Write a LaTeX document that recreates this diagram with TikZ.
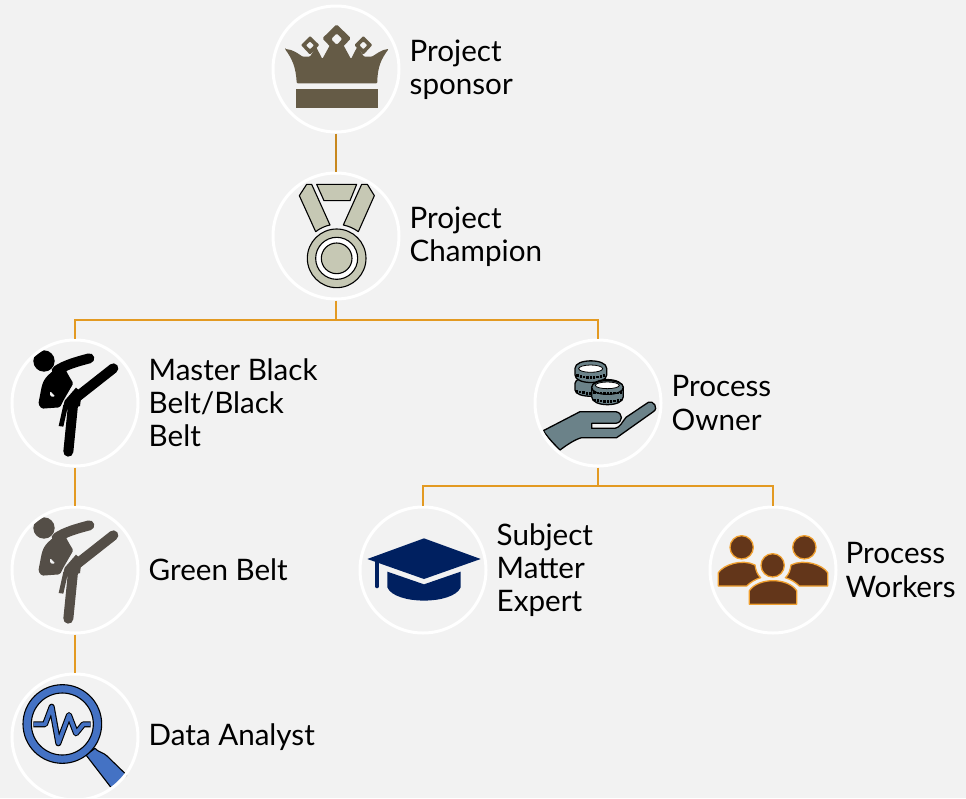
\documentclass[tikz,border=0pt]{standalone}
\usepackage{fontspec}
\setmainfont{Lato}
\definecolor{bgc}{HTML}{F2F2F2}
\definecolor{linec}{HTML}{E39A22}
\definecolor{crownc}{HTML}{655B46}
\definecolor{medalc}{HTML}{C6C8B4}
\definecolor{greenb}{HTML}{544E47}
\definecolor{coinc}{HTML}{6B8289}
\definecolor{capc}{HTML}{002060}
\definecolor{peoplec}{HTML}{63361A}
\definecolor{peoplel}{HTML}{F0A030}
\definecolor{magc}{HTML}{4472C4}
\tikzset{
  disc/.style={circle,draw=white,line width=3pt,minimum size=126pt,inner sep=0pt,outer sep=1.5pt},
  lab/.style={anchor=west,align=left,inner sep=0pt,font=\fontsize{29.6}{33.2}\selectfont},
  conn/.style={draw=linec,line width=2.9pt},
  medalpart/.style={fill=medalc,draw=black,line width=1.1pt,line join=round},
  coinpart/.style={fill=coinc,draw=black,line width=1.3pt},
  person/.style={fill=peoplec,draw=peoplel,line width=1.3pt,line join=round}
}
\newcommand{\kicker}[1]{%
  \fill[#1] (132,93) circle (32);
  \draw[#1,line width=10pt,line cap=round] (170,122) .. controls (195,105) and (230,95) .. (268,85);
  \fill[#1,even odd rule,rounded corners=1.5pt] (130,155) .. controls (145,130) and (165,118) .. (190,105) -- (205,135) -- (220,160) -- (190,212) -- (180,232) -- (125,236) -- (115,222) -- (125,170) -- cycle
     (150,182) -- (167,200) -- (150,200) -- cycle;
  \draw[#1,line width=10pt,line cap=round] (232,200) -- (340,115);
  \fill[#1] (228,173) -- (245,188) -- (240,228) -- (204,240) -- (190,228) -- (194,212) -- cycle;
  \draw[#1,line width=10pt,line cap=round] (220,215) -- (205,365);
  \fill[#1] (190,225) -- (203,232) -- (190,290) -- (176,288) -- cycle;
}
\newcommand{\coinband}[3]{%
  \foreach \k in {-4,...,4}{\fill[black] ({#1+\k*10-3},{#2+#3*(1-0.05*\k*\k)}) rectangle ++(7,8);}
}
\begin{document}
\begin{tikzpicture}[x=1pt,y=-1pt]
\useasboundingbox (0,0) rectangle (966,798);
\fill[bgc] (0,0) rectangle (966,798);

% crown
\begin{scope}[shift={(260,0)},scale=1/3]
  \fill[crownc,rounded corners=1pt] (75,147) .. controls (100,148) and (120,165) .. (128,170) -- (150,170) -- (168,140) -- (187,177) -- (210,135) -- (250,135) -- (273,177) -- (292,140) -- (312,170) -- (335,170) .. controls (345,165) and (365,148) .. (386,147) .. controls (365,175) and (352,200) .. (352,250) -- (110,250) .. controls (108,200) and (95,175) .. (75,147) -- cycle;
  \fill[crownc,even odd rule,rounded corners=1.5pt] (230,73) -- (273,115) -- (230,160) -- (187,115) -- cycle (230,100) -- (247,117) -- (230,135) -- (213,117) -- cycle;
  \fill[crownc,even odd rule,rounded corners=1pt] (150,108) -- (178,135) -- (150,164) -- (123,135) -- cycle (150,124) -- (162,136) -- (150,148) -- (138,136) -- cycle;
  \fill[crownc,even odd rule,rounded corners=1pt] (310,108) -- (337,135) -- (310,164) -- (283,135) -- cycle (310,124) -- (322,136) -- (310,148) -- (298,136) -- cycle;
  \fill[crownc] (108,267) rectangle (354,323);
\end{scope}

% medal
\begin{scope}[shift={(260,0)},scale=1/3]
  \draw[medalpart] (118,587) -- (140,553) -- (155,553) -- (210,675) .. controls (195,678) and (180,685) .. (167,695) -- cycle;
  \draw[medalpart] (170,553) -- (290,553) -- (270,602) -- (192,602) -- cycle;
  \draw[medalpart] (343,587) -- (322,553) -- (305,553) -- (250,675) .. controls (265,678) and (282,685) .. (295,695) -- cycle;
  \draw[medalpart] (230,775) circle (88);
  \draw[fill=white,draw=black,line width=1.1pt] (230,775) circle (63);
  \draw[medalpart] (230,775) circle (46);
\end{scope}

% kickers
\begin{scope}[shift={(0,330)},scale=1/3]
  \kicker{black}
\end{scope}
\begin{scope}[shift={(0,497)},scale=1/3]
  \kicker{greenb}
\end{scope}

% coins and hand
\begin{scope}[shift={(525,330)},scale=1/3]
  \draw[coinpart] (150,160) .. controls (150,135) and (245,135) .. (250,160) -- (250,180) .. controls (245,205) and (150,205) .. (150,180) -- cycle;
  \coinband{195}{178}{8}
  \draw[coinpart] (150,115) .. controls (150,85) and (245,85) .. (245,115) -- (245,135) .. controls (245,165) and (150,165) .. (150,135) -- cycle;
  \fill[white,draw=black,line width=.8pt] (197,116) ellipse (36 and 11);
  \coinband{197}{132}{6}
  \draw[coinpart] (200,175) .. controls (200,140) and (295,140) .. (295,175) -- (295,200) .. controls (295,232) and (200,232) .. (200,200) -- cycle;
  \coinband{248}{205}{5}
  \draw[coinpart] (200,172) .. controls (200,145) and (295,145) .. (295,172) .. controls (295,200) and (200,200) .. (200,172) -- cycle;
  \fill[white,draw=black,line width=.8pt] (247,166) ellipse (36 and 10);
  \coinband{248}{183}{3}
  \draw[coinpart,line join=round] (55,302) -- (165,245) -- (272,245) .. controls (295,248) and (295,278) .. (272,280) -- (200,280) -- (200,295) -- (270,295) .. controls (285,293) and (292,275) .. (303,262) -- (370,217) .. controls (385,210) and (402,235) .. (385,245) -- (275,323) -- (170,323) .. controls (150,328) and (125,345) .. (105,360) .. controls (85,340) and (68,322) .. (55,302) -- cycle;
\end{scope}

% cap
\begin{scope}[shift={(350,500)},scale=1/3]
  \fill[capc] (52,177) -- (222,115) -- (392,177) -- (222,237) -- cycle;
  \draw[capc,line width=4.6pt,line cap=round] (81,183) -- (81,258);
  \fill[capc] (112,215) -- (222,253) -- (332,215) -- (332,262) .. controls (310,315) and (134,315) .. (112,262) -- cycle;
\end{scope}

% people
\begin{scope}[shift={(700,500)},scale=1/3]
  \draw[person] (55,258) -- (55,218) .. controls (70,195) and (125,175) .. (165,195) .. controls (167,210) and (172,225) .. (182,233) .. controls (165,238) and (150,248) .. (140,258) -- cycle;
  \draw[person] (383,258) -- (383,218) .. controls (368,195) and (313,175) .. (273,195) .. controls (271,210) and (266,225) .. (256,233) .. controls (273,238) and (288,248) .. (298,258) -- cycle;
  \draw[person] (148,313) -- (148,272) .. controls (175,232) and (263,232) .. (290,272) -- (290,313) -- cycle;
  \draw[person] (125,142) circle (35);
  \draw[person] (313,142) circle (35);
  \draw[person] (218,196) circle (35);
\end{scope}

% magnifier
\begin{scope}[shift={(0,665)},scale=1/3]
  \draw[fill=magc,draw=black,line width=1.1pt,line join=round] (258,270) -- (285,250) .. controls (295,262) and (310,262) .. (320,272) -- (380,330) -- (335,370) -- (275,292) -- cycle;
  \draw[fill=magc,draw=black,line width=1.1pt,even odd rule] (187,177) circle (118) (187,177) circle (93);
  \draw[black,line width=6pt,line join=round,line cap=butt] (100,178) -- (135,178) -- (155,125) -- (175,235) -- (207,150) -- (228,205) -- (250,178) -- (272,178);
  \draw[magc,line width=3.8pt,line join=round] (101,178) -- (135,178) -- (155,125) -- (175,235) -- (207,150) -- (228,205) -- (250,178) -- (271,178);
\end{scope}

% discs
\node[disc] (sponsor) at (336,69) {};
\node[disc] (champion) at (336,236) {};
\node[disc] (master) at (75,403) {};
\node[disc] (green) at (75,570) {};
\node[disc] (analyst) at (75,737) {};
\node[disc] (owner) at (598,403) {};
\node[disc] (expert) at (423,570) {};
\node[disc] (workers) at (773,570) {};

% labels
\node[lab] (tsponsor) at (409.5,70) {Project\\sponsor};
\node[lab] (tchampion) at (409.5,237) {Project\\Champion};
\node[lab] (tmaster) at (148.5,403) {Master Black\\Belt/Black\\Belt};
\node[lab] (tgreen) at (148.5,570) {Green Belt};
\node[lab] (tanalyst) at (148.5,737) {Data Analyst};
\node[lab] (towner) at (671.5,403) {Process\\Owner};
\node[lab] (texpert) at (496.5,570) {Subject\\Matter\\Expert};
\node[lab] (tworkers) at (845.5,570) {Process\\Workers};

% connectors
\coordinate (busa) at (336,320);
\coordinate (busb) at (598,486);
\draw[conn,draw=linec!88!black] (sponsor) -- (champion);
\draw[conn] (champion) -- (busa);
\draw[conn] (busa) -| (master);
\draw[conn] (busa) -| (owner);
\draw[conn] (master) -- (green);
\draw[conn] (green) -- (analyst);
\draw[conn] (owner) -- (busb);
\draw[conn] (busb) -| (expert);
\draw[conn] (busb) -| (workers);
\end{tikzpicture}
\end{document}
